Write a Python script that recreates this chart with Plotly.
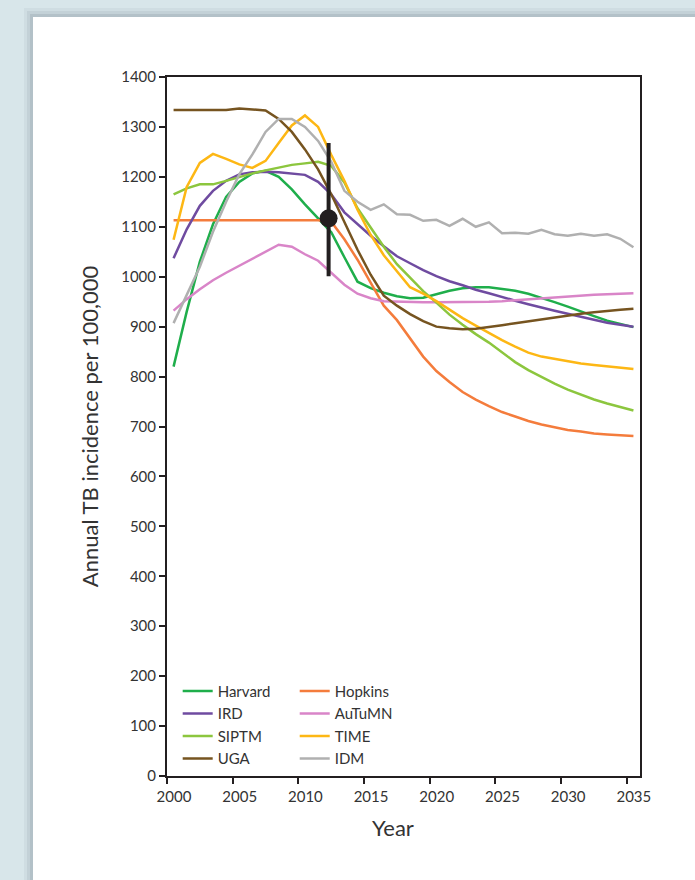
import plotly.graph_objects as go

years = list(range(2000, 2036))

harvard = [820, 930, 1030, 1105, 1160, 1190, 1207, 1212, 1200, 1175, 1145, 1118, 1089, 1039, 990, 977,
           968, 961, 957, 958, 965, 972, 977, 979, 979, 976, 972, 966, 958, 949, 940, 930, 921, 912, 905, 899]
hopkins = [1113] * 12 + [1110, 1075, 1034, 989, 942, 913, 877, 840, 811, 789, 769, 754, 741, 729,
                         720, 711, 704, 698, 693, 690, 686, 684, 682, 681]
ird = [1037, 1095, 1142, 1172, 1192, 1205, 1209, 1210, 1209, 1207, 1204, 1190, 1165, 1129, 1105, 1082,
       1061, 1041, 1027, 1013, 1001, 991, 983, 974, 967, 959, 952, 945, 938, 932, 926, 920, 914, 908, 904, 900]
autumn = [932, 955, 975, 993, 1008, 1022, 1036, 1050, 1064, 1060, 1045, 1032, 1008, 984, 966, 957,
          951, 950, 949, 949, 949, 949, 950, 950, 950, 951, 953, 955, 957, 959, 961, 963, 964, 965, 966, 967]
siptm = [1165, 1177, 1185, 1185, 1192, 1200, 1207, 1213, 1219, 1224, 1227, 1230, 1222, 1189, 1137, 1098,
         1060, 1025, 997, 971, 948, 924, 904, 885, 868, 848, 829, 813, 799, 786, 774, 764, 754, 746, 739, 732]
time_ = [1074, 1180, 1228, 1246, 1236, 1225, 1218, 1232, 1268, 1303, 1323, 1300, 1244, 1192, 1134, 1084,
         1043, 1010, 979, 966, 951, 934, 917, 902, 887, 873, 860, 848, 840, 835, 830, 826, 823, 820, 817, 815]
uga = [1334, 1334, 1334, 1334, 1334, 1337, 1335, 1333, 1316, 1290, 1255, 1215, 1165, 1108, 1054, 1004,
       962, 942, 925, 911, 900, 897, 895, 896, 899, 903, 907, 911, 915, 919, 923, 926, 929, 932, 934, 936]
idm = [907, 963, 1020, 1090, 1150, 1205, 1245, 1290, 1316, 1316, 1300, 1272, 1230, 1172, 1150, 1134,
       1145, 1125, 1124, 1112, 1114, 1102, 1116, 1100, 1109, 1087, 1088, 1086, 1094, 1085, 1082, 1086,
       1082, 1085, 1076, 1059]

series_names = ["Harvard", "Hopkins", "IRD", "AuTuMN", "SIPTM", "TIME", "UGA", "IDM"]
series_values = [harvard, hopkins, ird, autumn, siptm, time_, uga, idm]
series_colors = ["#1fae4b", "#f47c3c", "#6f4ba0", "#d985c8", "#8cc63e", "#fdb714", "#765420", "#b0b0b0"]
series_legend = ["legend", "legend2", "legend", "legend2", "legend", "legend2", "legend", "legend2"]

obs_year = [2011.8]
obs_value = [1117]
obs_err_plus = [151]
obs_err_minus = [116]

x_tick_labels = ["2000", "2005", "2010", "2015", "2020", "2025", "2030", "2035"]
x_tick_pos = [int(t) - 0.5 for t in x_tick_labels]
y_ticks = list(range(0, 1401, 100))

FONT = "Lato"
DARK = "#231f20"
TXT = "#333333"

fig = go.Figure()
for name, vals, col, lg in zip(series_names, series_values, series_colors, series_legend):
    fig.add_trace(go.Scatter(x=years, y=vals, mode="lines", name=name, legend=lg,
                             line=dict(color=col, width=2.5)))

fig.add_trace(go.Scatter(
    x=obs_year, y=obs_value, mode="markers", showlegend=False,
    marker=dict(size=18, color=DARK),
    error_y=dict(type="data", array=obs_err_plus, arrayminus=obs_err_minus,
                 thickness=4, width=0, color=DARK)))

# page background with white panel and soft shadow
shapes = []
px0 = (33 - 167) / 473
py1 = (776 - 17) / 699
for i, op in enumerate([0.05, 0.07, 0.10]):
    d = (3 - i) * 3
    shapes.append(dict(type="rect", xref="paper", yref="paper", layer="below",
                       x0=px0 - d / 473, x1=1.3, y0=-0.3, y1=py1 + d / 699,
                       line=dict(width=0), fillcolor=f"rgba(40,60,70,{op})"))
shapes.append(dict(type="rect", xref="paper", yref="paper", layer="below",
                   x0=px0, x1=1.3, y0=-0.3, y1=py1,
                   line=dict(width=0), fillcolor="white"))

legend_common = dict(orientation="v", xanchor="left", yanchor="top", bgcolor="rgba(0,0,0,0)",
                     font=dict(size=15, color=TXT), itemwidth=30, tracegroupgap=0)

fig.update_layout(
    width=695, height=880,
    margin=dict(l=167, r=55, t=77, b=104),
    paper_bgcolor="#d8e6ea", plot_bgcolor="white",
    font=dict(family=FONT, color=TXT, size=15),
    shapes=shapes,
    showlegend=True,
    legend=dict(x=0.0226, y=0.145, **legend_common),
    legend2=dict(x=0.27, y=0.145, **legend_common),
    annotations=[dict(text="Year", xref="paper", yref="paper", x=(392.5 - 167) / 473,
                      y=-0.074, xanchor="center", yanchor="middle", showarrow=False,
                      font=dict(size=22, color=TXT))],
)

fig.update_xaxes(range=[1999.5, 2035.5], tickmode="array", tickvals=x_tick_pos,
                 ticktext=x_tick_labels, ticklabelshift=7, ticks="outside", ticklen=6,
                 tickwidth=2, tickcolor=DARK, showline=True, linewidth=2, linecolor=DARK,
                 mirror=True, showgrid=False, zeroline=False,
                 tickfont=dict(size=15, color=TXT))
fig.update_yaxes(range=[0, 1400], tickmode="array", tickvals=y_ticks, ticks="outside",
                 ticklen=6, tickwidth=2, tickcolor=DARK, showline=True, linewidth=2,
                 linecolor=DARK, mirror=True, showgrid=False, zeroline=False,
                 tickfont=dict(size=15, color=TXT),
                 title=dict(text="Annual TB incidence per 100,000", standoff=16,
                            font=dict(size=22, color=TXT)))

fig.write_html("out.html")
